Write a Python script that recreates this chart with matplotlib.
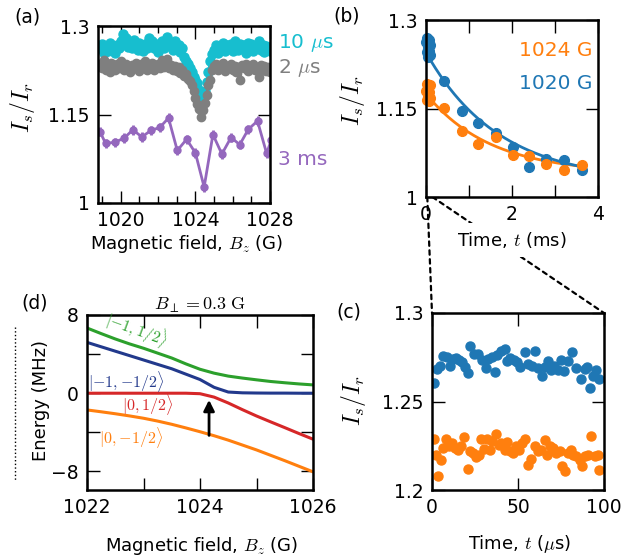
import numpy as np
import matplotlib
matplotlib.use("Agg")
import matplotlib.pyplot as plt
from matplotlib.patches import ConnectionPatch
from matplotlib.lines import Line2D

plt.rcParams['font.family'] = ['DejaVu Sans']
plt.rcParams['mathtext.fontset'] = 'cm'
plt.rcParams['font.size'] = 13
plt.rcParams['xtick.labelsize'] = 13.5
plt.rcParams['ytick.labelsize'] = 13.5

################################
# Data
################################
# (a) spectra vs magnetic field, 0.1 G steps
a_field = np.round(np.arange(1018.9, 1028.05, 0.1), 1)
a_10us = [1.262, 1.270, 1.255, 1.265, 1.258, 1.272, 1.260, 1.266, 1.255, 1.268,
          1.262, 1.275, 1.286, 1.270, 1.280, 1.265, 1.272, 1.262, 1.276, 1.268,
          1.260, 1.272, 1.265, 1.258, 1.270, 1.262, 1.280, 1.268, 1.274, 1.262,
          1.270, 1.256, 1.266, 1.275, 1.262, 1.270, 1.282, 1.268, 1.272, 1.260,
          1.275, 1.262, 1.268, 1.256, 1.262, 1.248, 1.240, 1.235, 1.228, 1.222,
          1.214, 1.208, 1.203, 1.192, 1.185, 1.179, 1.190, 1.205, 1.222, 1.240,
          1.252, 1.260, 1.268, 1.255, 1.265, 1.262, 1.272, 1.258, 1.268, 1.262,
          1.270, 1.258, 1.275, 1.265, 1.260, 1.270, 1.262, 1.268, 1.255, 1.272,
          1.264, 1.270, 1.258, 1.266, 1.262, 1.274, 1.260, 1.268, 1.256, 1.266,
          1.262, 1.258]
a_2us = [1.236, 1.228, 1.242, 1.225, 1.234, 1.222, 1.238, 1.230, 1.226, 1.236,
         1.228, 1.240, 1.232, 1.225, 1.236, 1.230, 1.222, 1.234, 1.228, 1.238,
         1.230, 1.224, 1.236, 1.229, 1.240, 1.226, 1.234, 1.230, 1.238, 1.225,
         1.232, 1.236, 1.228, 1.242, 1.230, 1.236, 1.244, 1.228, 1.234, 1.226,
         1.232, 1.224, 1.230, 1.220, 1.226, 1.215, 1.218, 1.210, 1.206, 1.200,
         1.190, 1.178, 1.168, 1.160, 1.146, 1.158, 1.170, 1.183, 1.200, 1.208,
         1.225, 1.232, 1.236, 1.226, 1.234, 1.228, 1.238, 1.224, 1.232, 1.228,
         1.236, 1.226, 1.232, 1.222, 1.230, 1.208, 1.234, 1.228, 1.236, 1.224,
         1.232, 1.228, 1.236, 1.226, 1.230, 1.213, 1.234, 1.226, 1.232, 1.224,
         1.230, 1.222]
a_2us_err = 0.006
a_field_3ms = [1018.88, 1019.19, 1019.69, 1020.18, 1020.65, 1021.13, 1021.62, 1022.09,
               1022.56, 1023.03, 1023.53, 1024.0, 1024.47, 1024.94, 1025.42, 1025.91,
               1026.38, 1026.84, 1027.33, 1027.82, 1028.07]
a_3ms = [1.121, 1.101, 1.103, 1.110, 1.124, 1.112, 1.123, 1.128,
         1.144, 1.089, 1.108, 1.085, 1.027, 1.116, 1.083, 1.111,
         1.099, 1.125, 1.139, 1.084, 1.107]
a_3ms_err = 0.008

# (b) decay vs time (ms)
b_time = [0.42, 0.83, 1.22, 1.62, 2.02, 2.40, 2.80, 3.20, 3.62]
b_1020 = [1.197, 1.146, 1.125, 1.109, 1.085, 1.051, 1.064, 1.063, 1.046]
b_1024 = [1.151, 1.112, 1.090, 1.101, 1.071, 1.070, 1.056, 1.045, 1.054]
b_early_time = [0.0, 0.012, 0.024, 0.036, 0.048, 0.06, 0.072, 0.084, 0.096]
b_early_1020 = [1.262, 1.245, 1.270, 1.238, 1.255, 1.266, 1.248, 1.258, 1.240]
b_early_1024 = [1.180, 1.165, 1.192, 1.172, 1.185, 1.162, 1.178, 1.190, 1.168]
b_err = 0.008
# exponential fits: offset, amplitude, tau (ms)
fit_1020 = (1.025, 0.22, 1.7)
fit_1024 = (1.04, 0.135, 1.5)

# (c) early-time data (us)
c_time_1020 = [1.2, 2.9, 4.5, 6.4, 8.7, 10.7, 12.2, 13.8, 15.7, 17.2, 19.0, 20.9, 22.3, 24.2,
               26.9, 29.3, 31.2, 32.6, 34.7, 36.4, 37.8, 39.9, 42.2, 43.6, 45.2, 47.5, 49.4,
               51.4, 53.9, 55.8, 58.1, 59.9, 61.4, 63.8, 65.7, 67.4, 69.4, 70.9, 73.3, 75.2,
               76.9, 79.1, 81.4, 83.9, 86.8, 88.8, 90.3, 91.7, 93.6, 95.5, 97.1]
c_1020 = [1.2605, 1.2684, 1.2702, 1.2759, 1.2751, 1.2702, 1.2740, 1.2746, 1.2736, 1.2721,
          1.2695, 1.2661, 1.2812, 1.2770, 1.2770, 1.2736, 1.2689, 1.2740, 1.2751, 1.2665,
          1.2765, 1.2783, 1.2797, 1.2727, 1.2746, 1.2736, 1.2721, 1.2695, 1.2778, 1.2714,
          1.2699, 1.2783, 1.2689, 1.2642, 1.2695, 1.2727, 1.2680, 1.2702, 1.2680, 1.2733,
          1.2670, 1.2727, 1.2778, 1.2689, 1.2627, 1.2684, 1.2695, 1.2576, 1.2642, 1.2680,
          1.2627]
c_time_1024 = [1.2, 2.5, 3.5, 5.0, 6.4, 8.3, 9.9, 11.6, 13.2, 15.1, 16.7, 18.6, 20.9, 21.9,
               23.8, 25.4, 27.3, 28.3, 30.0, 32.0, 33.5, 35.1, 37.4, 39.0, 40.3, 42.2, 43.6,
               45.2, 47.1, 49.0, 50.6, 52.5, 53.9, 55.8, 57.4, 59.7, 61.6, 63.6, 65.5, 67.1,
               68.8, 70.3, 72.3, 74.2, 75.8, 77.1, 79.1, 80.6, 82.0, 83.9, 85.9, 87.4, 88.8,
               90.7, 92.6, 94.6, 96.5, 97.1]
c_1024 = [1.2288, 1.2200, 1.2077, 1.2171, 1.2237, 1.2288, 1.2247, 1.2266, 1.2237, 1.2224,
          1.2250, 1.2299, 1.2119, 1.2218, 1.2209, 1.2186, 1.2200, 1.2288, 1.2232, 1.2288,
          1.2224, 1.2275, 1.2318, 1.2256, 1.2266, 1.2228, 1.2269, 1.2218, 1.2209, 1.2247,
          1.2228, 1.2266, 1.2288, 1.2143, 1.2175, 1.2247, 1.2218, 1.2228, 1.2284, 1.2200,
          1.2247, 1.2237, 1.2209, 1.2218, 1.2137, 1.2105, 1.2209, 1.2228, 1.2200, 1.2190,
          1.2171, 1.2134, 1.2190, 1.2200, 1.2307, 1.2190, 1.2200, 1.2115]

# (d) energy levels vs field
d_field = [1022.0, 1022.25, 1022.5, 1022.75, 1023.0, 1023.25, 1023.5, 1023.75, 1024.0,
           1024.25, 1024.5, 1024.75, 1025.0, 1025.25, 1025.5, 1025.75, 1026.0]
d_m1_p12 = [6.67, 6.1, 5.55, 5.05, 4.6, 4.1, 3.6, 3.0, 2.45, 2.05, 1.75, 1.55, 1.37, 1.2, 1.07, 0.95, 0.85]
d_m1_m12 = [5.2, 4.75, 4.3, 3.85, 3.4, 2.95, 2.5, 1.95, 1.4, 0.6, 0.12, 0.04, 0.02, 0.01, 0.01, 0.0, 0.0]
d_0_p12 = [0.0, 0.0, 0.0, 0.0, 0.0, 0.0, 0.0, 0.0, -0.05, -0.4, -1.0, -1.68, -2.33, -2.93, -3.52, -4.12, -4.7]
d_0_m12 = [-1.71, -1.9, -2.1, -2.32, -2.56, -2.85, -3.18, -3.55, -3.94, -4.35, -4.8, -5.3, -5.8, -6.35, -6.9, -7.47, -8.04]
d_arrow_field = 1024.16

cyan = '#17becf'
gray = '#7f7f7f'
purple = '#9467bd'
blue = '#1f77b4'
orange = '#ff7f0e'
green = '#2ca02c'
navy = '#22398c'
red = '#d62728'

W, H = 641, 560
fig = plt.figure(figsize=(W / 100, H / 100), dpi=100)


def box(l, r, t, b):
    return [l / W, 1 - b / H, (r - l) / W, (b - t) / H]


def style(ax):
    ax.tick_params(which='both', direction='in', top=True, right=True, width=1.0, pad=6)
    ax.tick_params(which='major', length=9)
    ax.tick_params(which='minor', length=5)
    for s in ax.spines.values():
        s.set_linewidth(1.8)


ax_a = fig.add_axes(box(98, 270, 26, 203))
ax_b = fig.add_axes(box(426, 598, 20, 197))
ax_c = fig.add_axes(box(432, 604, 313, 490))
ax_d = fig.add_axes(box(87, 313, 315, 490))
for ax in (ax_a, ax_b, ax_c, ax_d):
    style(ax)

################################
# (a)
################################
ax_a.errorbar(a_field, a_2us, yerr=a_2us_err, fmt='-o', color=gray, ms=6, lw=2, elinewidth=1.5)
ax_a.plot(a_field, a_10us, '-o', color=cyan, ms=6.5, lw=2)
ax_a.errorbar(a_field_3ms, a_3ms, yerr=a_3ms_err, fmt='-o', color=purple, ms=5, lw=2, elinewidth=2)
ax_a.set_xlim(1018.78, 1028)
ax_a.set_ylim(1, 1.3)
ax_a.set_xticks([1020, 1024, 1028])
ax_a.set_xticks(np.arange(1019, 1028), minor=True)
ax_a.set_yticks([1, 1.15, 1.3])
ax_a.set_yticklabels(['1', '1.15', '1.3'])
ax_a.set_xlabel(r'Magnetic field, $B_z$ (G)')
ax_a.xaxis.set_label_coords(0.516, -0.17)
ax_a.set_ylabel(r'$I_s/I_r$', fontsize=17)
ax_a.yaxis.set_label_coords(-0.355, 0.537)
ax_a.text(1.047, 0.904, r'10 $\mu$s', color=cyan, transform=ax_a.transAxes, va='center', fontsize=14.5)
ax_a.text(1.047, 0.763, r'2 $\mu$s', color=gray, transform=ax_a.transAxes, va='center', fontsize=14.5)
ax_a.text(1.047, 0.243, '3 ms', color=purple, transform=ax_a.transAxes, va='center', fontsize=14.5)

################################
# (b)
################################
tt = np.linspace(0, 3.65, 200)
for fit, col in ((fit_1024, orange), (fit_1020, blue)):
    ax_b.plot(tt, fit[0] + fit[1] * np.exp(-tt / fit[2]), color=col, lw=2)
ax_b.errorbar(b_early_time, b_early_1024, yerr=b_err, fmt='o', color=orange, ms=7, elinewidth=2, clip_on=False)
ax_b.errorbar(b_early_time, b_early_1020, yerr=b_err, fmt='o', color=blue, ms=7, elinewidth=2, clip_on=False)
ax_b.errorbar(b_time, b_1020, yerr=b_err, fmt='o', color=blue, ms=7, elinewidth=2)
ax_b.errorbar(b_time, b_1024, yerr=b_err, fmt='o', color=orange, ms=7, elinewidth=2)
ax_b.set_xlim(0, 4)
ax_b.set_ylim(1, 1.3)
ax_b.set_xticks([0, 1, 2, 3, 4])
ax_b.set_xticklabels(['0', '', '2', '', '4'])
ax_b.set_yticks([1, 1.15, 1.3])
ax_b.set_yticklabels(['1', '1.15', '1.3'])
ax_b.set_xlabel(r'Time, $t$ (ms)')
ax_b.xaxis.set_label_coords(0.498, -0.186)
ax_b.xaxis.label.set_bbox(dict(facecolor='white', edgecolor='none', pad=5))
ax_b.set_ylabel(r'$I_s/I_r$', fontsize=17)
ax_b.yaxis.set_label_coords(-0.343, 0.548)
ax_b.text(0.965, 0.83, '1024 G', color=orange, transform=ax_b.transAxes, ha='right', va='center', fontsize=14.5)
ax_b.text(0.965, 0.644, '1020 G', color=blue, transform=ax_b.transAxes, ha='right', va='center', fontsize=14.5)

################################
# (c)
################################
ax_c.plot(c_time_1020, c_1020, 'o', color=blue, ms=6.5)
ax_c.errorbar(c_time_1024, c_1024, yerr=0.002, fmt='o', color=orange, ms=6.5, elinewidth=1.5)
ax_c.set_xlim(0, 100)
ax_c.set_ylim(1.2, 1.3)
ax_c.set_xticks([0, 50, 100])
ax_c.set_yticks([1.2, 1.25, 1.3])
ax_c.set_yticklabels(['1.2', '1.25', '1.3'])
ax_c.set_xlabel(r'Time, $t$ ($\mu$s)')
ax_c.xaxis.set_label_coords(0.51, -0.243)
ax_c.set_ylabel(r'$I_s/I_r$', fontsize=17)
ax_c.yaxis.set_label_coords(-0.372, 0.508)

################################
# (d)
################################
ax_d.plot(d_field, d_m1_p12, color=green, lw=2.2)
ax_d.plot(d_field, d_m1_m12, color=navy, lw=2.2)
ax_d.plot(d_field, d_0_p12, color=red, lw=2.2)
ax_d.plot(d_field, d_0_m12, color=orange, lw=2.2)
ax_d.set_xlim(1022, 1026)
ax_d.set_ylim(-9.9, 8.0)
ax_d.set_xticks([1022, 1023, 1024, 1025, 1026])
ax_d.set_xticklabels(['1022', '', '1024', '', '1026'])
ax_d.set_yticks([-8, -4, 0, 4, 8])
ax_d.set_yticklabels(['\u22128', '', '0', '', '8'])
ax_d.set_xlabel(r'Magnetic field, $B_z$ (G)')
ax_d.xaxis.set_label_coords(0.507, -0.257)
ax_d.set_ylabel('Energy (MHz)')
ax_d.yaxis.set_label_coords(-0.164, 0.514)
ax_d.set_title(r'$B_\perp = 0.3\ \mathrm{G}$', fontsize=13, pad=3)
ax_d.text(1022.88, 6.5, r'$|{-1},1/2\rangle$', color=green, fontsize=11.5, ha='center', va='center', rotation=-20)
ax_d.text(1022.7, 1.15, r'$|{-1},{-1/2}\rangle$', color=navy, fontsize=11.5, ha='center', va='center')
ax_d.text(1023.07, -1.2, r'$|0,1/2\rangle$', color=red, fontsize=11.5, ha='center', va='center')
ax_d.text(1022.77, -4.5, r'$|0,{-1/2}\rangle$', color=orange, fontsize=11.5, ha='center', va='center')
ax_d.annotate('', xy=(d_arrow_field, -0.4), xytext=(d_arrow_field, -4.6),
              arrowprops=dict(arrowstyle='-|>', color='k', lw=2, mutation_scale=16))

################################
# Zoom guide lines and labels
################################
for xa, xb in ((0.03, 0), (0.15, 100)):
    con = ConnectionPatch(xyA=(xa, 1.0), coordsA=ax_b.transData, xyB=(xb, 1.3), coordsB=ax_c.transData,
                          linestyle=(0, (2, 2)), lw=1.6, color='k')
    con.set_zorder(-1)
    fig.add_artist(con)

fig.add_artist(Line2D([15 / W, 15 / W], [1 - 327 / H, 1 - 480 / H], ls=':', lw=1, color='k'))

fig.text(27 / W, 1 - 17 / H, '(a)', ha='center', va='center', fontsize=13.5)
fig.text(347 / W, 1 - 16 / H, '(b)', ha='center', va='center', fontsize=13.5)
fig.text(349 / W, 1 - 312 / H, '(c)', ha='center', va='center', fontsize=13.5)
fig.text(35 / W, 1 - 303 / H, '(d)', ha='center', va='center', fontsize=13.5)

fig.savefig('out.png', dpi=100)
